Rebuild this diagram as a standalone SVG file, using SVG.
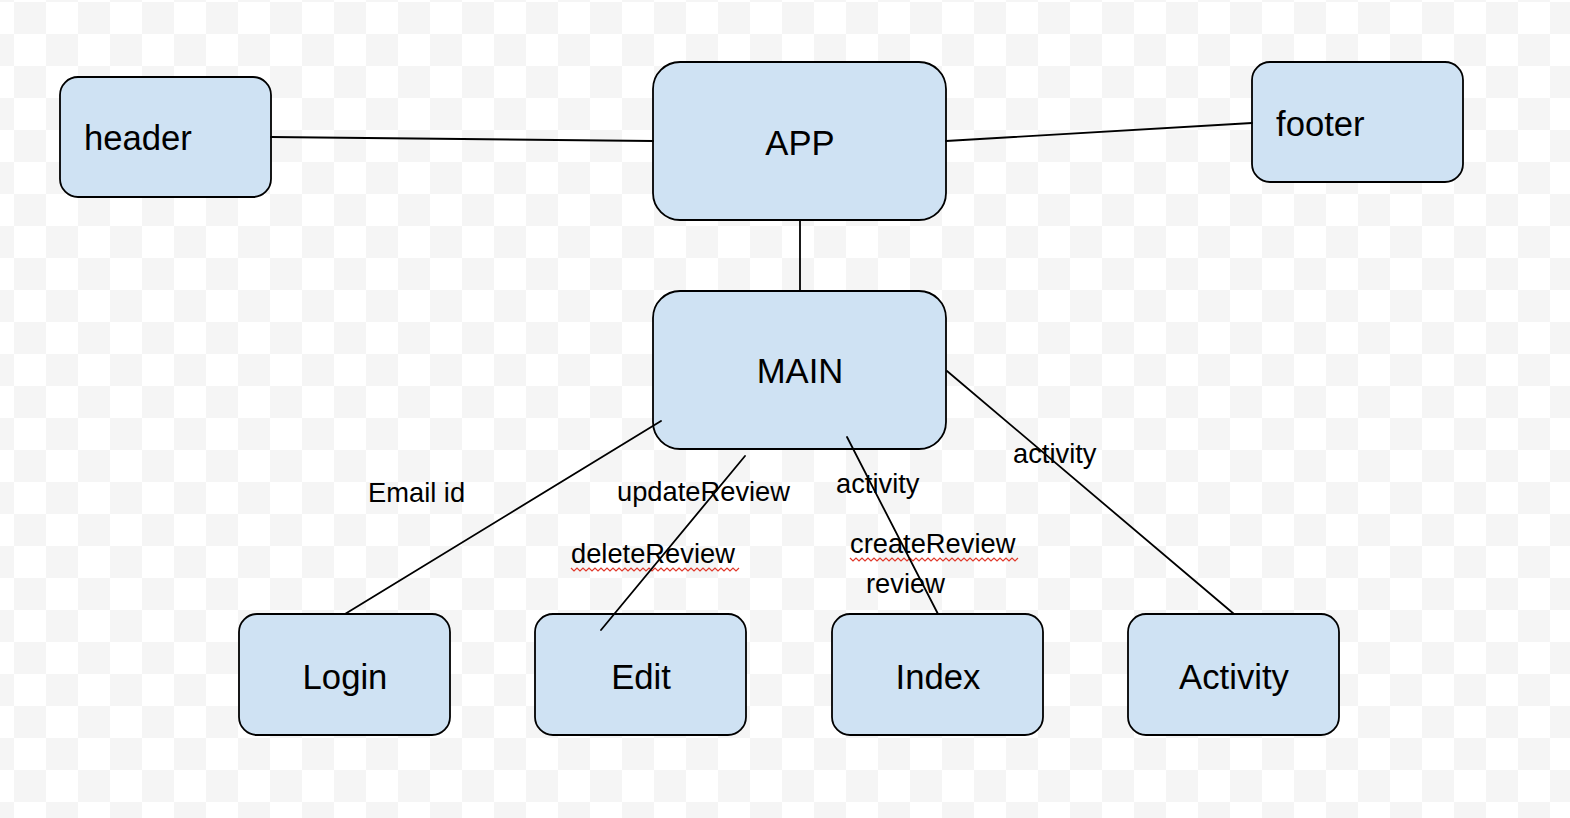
<svg xmlns="http://www.w3.org/2000/svg" width="1570" height="818" viewBox="0 0 1570 818">
  <defs>
    <pattern id="checker" x="14" y="2" width="64" height="64" patternUnits="userSpaceOnUse">
      <rect x="0" y="0" width="64" height="64" fill="#ffffff"/>
      <rect x="0" y="0" width="32" height="32" fill="#f5f5f5"/>
      <rect x="32" y="32" width="32" height="32" fill="#f5f5f5"/>
    </pattern>
    <style>
      .box { fill: #cfe2f3; stroke: #000000; stroke-width: 1.8; }
      .nlabel { font-family: "Liberation Sans", Arial, sans-serif; font-size: 34.67px; fill: #000000; }
      .elabel { font-family: "Liberation Sans", Arial, sans-serif; font-size: 27.3px; fill: #000000; }
      .conn { stroke: #000000; stroke-width: 1.8; fill: none; stroke-linecap: round; }
      .squiggle { stroke: #e0392b; stroke-width: 1.2; fill: none; }
    </style>
  </defs>

  <rect x="0" y="0" width="1570" height="818" fill="url(#checker)"/>

  <g id="node-header">
    <rect class="box" x="60" y="77" width="211" height="120" rx="18" ry="18"/>
    <text class="nlabel" x="84" y="150">header</text>
  </g>
  <g id="node-app">
    <rect class="box" x="653" y="62" width="293" height="158" rx="27" ry="27"/>
    <text class="nlabel" x="800" y="155" text-anchor="middle">APP</text>
  </g>
  <g id="node-footer">
    <rect class="box" x="1252" y="62" width="211" height="120" rx="18" ry="18"/>
    <text class="nlabel" x="1276" y="136">footer</text>
  </g>
  <g id="node-main">
    <rect class="box" x="653" y="291" width="293" height="158" rx="27" ry="27"/>
    <text class="nlabel" x="800" y="383" text-anchor="middle">MAIN</text>
  </g>
  <g id="node-login">
    <rect class="box" x="239" y="614" width="211" height="121" rx="18" ry="18"/>
    <text class="nlabel" x="345" y="689" text-anchor="middle">Login</text>
  </g>
  <g id="node-edit">
    <rect class="box" x="535" y="614" width="211" height="121" rx="18" ry="18"/>
    <text class="nlabel" x="641" y="689" text-anchor="middle">Edit</text>
  </g>
  <g id="node-index">
    <rect class="box" x="832" y="614" width="211" height="121" rx="18" ry="18"/>
    <text class="nlabel" x="938" y="689" text-anchor="middle">Index</text>
  </g>
  <g id="node-activity">
    <rect class="box" x="1128" y="614" width="211" height="121" rx="18" ry="18"/>
    <text class="nlabel" x="1234" y="689" text-anchor="middle">Activity</text>
  </g>

  <g id="labels">
    <text class="elabel" x="368" y="502">Email id</text>
    <text class="elabel" x="617" y="501">updateReview</text>
    <text class="elabel" x="571" y="563">deleteReview</text>
    <path class="squiggle" d="M571,568 l3,3 l3,-3 l3,3 l3,-3 l3,3 l3,-3 l3,3 l3,-3 l3,3 l3,-3 l3,3 l3,-3 l3,3 l3,-3 l3,3 l3,-3 l3,3 l3,-3 l3,3 l3,-3 l3,3 l3,-3 l3,3 l3,-3 l3,3 l3,-3 l3,3 l3,-3 l3,3 l3,-3 l3,3 l3,-3 l3,3 l3,-3 l3,3 l3,-3 l3,3 l3,-3 l3,3 l3,-3 l3,3 l3,-3 l3,3 l3,-3 l3,3 l3,-3 l3,3 l3,-3 l3,3 l3,-3 l3,3 l3,-3 l3,3 l3,-3 l3,3 l3,-3"/>
    <text class="elabel" x="836" y="493">activity</text>
    <text class="elabel" x="850" y="553">createReview</text>
    <path class="squiggle" d="M850,558 l3,3 l3,-3 l3,3 l3,-3 l3,3 l3,-3 l3,3 l3,-3 l3,3 l3,-3 l3,3 l3,-3 l3,3 l3,-3 l3,3 l3,-3 l3,3 l3,-3 l3,3 l3,-3 l3,3 l3,-3 l3,3 l3,-3 l3,3 l3,-3 l3,3 l3,-3 l3,3 l3,-3 l3,3 l3,-3 l3,3 l3,-3 l3,3 l3,-3 l3,3 l3,-3 l3,3 l3,-3 l3,3 l3,-3 l3,3 l3,-3 l3,3 l3,-3 l3,3 l3,-3 l3,3 l3,-3 l3,3 l3,-3 l3,3 l3,-3 l3,3 l3,-3"/>
    <text class="elabel" x="866" y="593">review</text>
    <text class="elabel" x="1013" y="463">activity</text>
  </g>

  <g id="connectors">
    <line class="conn" x1="271" y1="137" x2="653" y2="141"/>
    <line class="conn" x1="946" y1="141" x2="1252" y2="123"/>
    <line class="conn" x1="800" y1="220" x2="800" y2="291"/>
    <line class="conn" x1="345" y1="614" x2="661" y2="421"/>
    <line class="conn" x1="601" y1="630" x2="745" y2="456"/>
    <line class="conn" x1="847" y1="437" x2="938" y2="614"/>
    <line class="conn" x1="947" y1="371" x2="1234" y2="614"/>
  </g>
</svg>
